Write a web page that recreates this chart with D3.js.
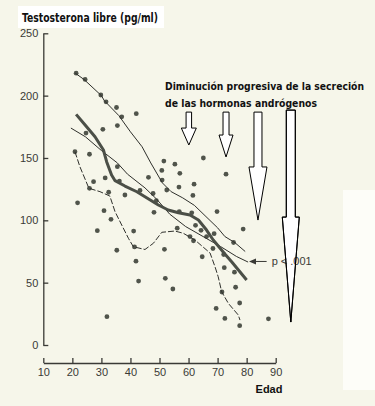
<!DOCTYPE html>
<html>
<head>
<meta charset="utf-8">
<script src="https://cdn.jsdelivr.net/npm/d3@7"></script>
<style>
  html, body { margin: 0; padding: 0; background: #f6f6ea; }
  svg { display: block; }
</style>
</head>
<body>
<svg id="chart" width="375" height="406"></svg>
<script>
// ------------ DATA -----------------

// [edad, testosterona libre pg/ml]
const points = [
  [21.3, 218], [24.4, 213], [29.8, 200.5], [31.6, 195], [35.2, 190.5], [42, 185.5],
  [37, 183], [35.5, 176], [30.5, 173], [24.7, 170], [20.9, 155], [25.9, 153],
  [35.5, 143], [31.3, 134], [27.3, 131], [36.2, 131.5], [32.5, 122.5], [25.9, 125.7],
  [38.1, 120.3], [43.3, 124], [46.2, 134.5], [47.8, 121.5], [51.5, 147.5], [55.3, 145],
  [50.8, 140], [50.9, 132.3], [57, 137.7], [56.7, 126.7], [21.8, 114], [30.9, 107.7],
  [33.3, 100.8], [28.6, 91.7], [41.1, 91.4], [41.4, 78.7], [35.3, 76], [41.9, 67.2],
  [42.8, 51.3], [31.9, 22.7], [48.1, 106.4], [48.9, 115.7], [56.1, 93.7], [51.7, 76.7],
  [52, 53.5], [54.6, 44.9], [65.1, 150], [72.9, 137], [61.9, 129], [61.5, 120],
  [69.8, 107], [61.1, 106], [56.8, 107], [78.8, 93], [62.4, 96], [64.3, 92],
  [66.2, 87], [68.8, 89.3], [60.5, 87], [61.7, 83.6], [75.5, 82.2], [68.4, 77.4],
  [64.7, 70.8], [72.1, 72.6], [72.3, 62], [75.8, 58.4], [76.2, 46.3], [71.5, 42.5],
  [77.6, 33.7], [69.5, 29.3], [72.5, 21.3], [77.6, 15.5], [87.5, 21], [52.5, 124.3]
];

// media movil (linea gruesa)
const meanLine = [
  [21.3, 185], [24.4, 176.4], [27.8, 167], [30.7, 156.4], [31.8, 147], [33.5, 136.3],
  [34.7, 131.8], [38.1, 127.5], [42.2, 122.9], [45, 118.9], [49.6, 112.3], [53, 108.3],
  [56.5, 106.1], [60.5, 104.2], [63.4, 100.2], [66.2, 92.2], [68.5, 84.2], [70.8, 77.8],
  [72.5, 73], [74.9, 66.6], [80, 52.1]
];

// percentil superior
const upperLine = [
  [21, 218], [24, 213], [30, 200], [31, 196], [36, 184], [40, 171], [44, 159],
  [47, 146], [51, 130], [54, 123], [58, 118], [62, 112], [66, 103], [70, 94],
  [72.5, 87], [76, 82], [79.5, 75]
];

// regresion
const regLine = [
  [19.5, 174], [24.5, 167], [30, 156], [35.5, 146], [39, 137], [45, 126], [49, 117],
  [53.5, 105], [59, 95], [65, 87], [71, 79], [76.5, 71], [80.5, 66.5]
];

// percentil inferior (discontinua)
const lowerLine = [
  [20.9, 155], [22.6, 143], [25.7, 125.7], [29.5, 123], [32.9, 119.5], [34.7, 106.9],
  [37, 96.2], [39.3, 85.6], [41, 78.8], [45, 76.6], [47.9, 81.6], [50.8, 90.4],
  [55.3, 91.4], [58.2, 89.6], [62.2, 84.2], [67.4, 73.8], [69.1, 62.8], [70.2, 54.8],
  [71.4, 42.7], [73.7, 33.4], [77.1, 24.1], [77.7, 20]
];

const xTicks = [10, 20, 30, 40, 50, 60, 70, 80, 90];
const yTicks = [0, 50, 100, 150, 200, 250];

// flechas: edad, valor arriba, valor cuello, valor punta
const arrows = [
  { age: 60.1, top: 186.8, neck: 174, tip: 160.4, shaft: 5.5, head: 15 },
  { age: 72.9, top: 186.8, neck: 168.4, tip: 150.8, shaft: 6, head: 14 },
  { age: 83.9, top: 186.8, neck: 142.8, tip: 100.2, shaft: 8, head: 18 },
  { age: 95.2, top: 188.4, neck: 102.6, tip: 18.4, shaft: 9, head: 17 }
];

// ------------ SETUP -----------------

const svg = d3.select("#chart");
const x = d3.scaleLinear().domain([10, 90]).range([43.3, 275.7]);
const y = d3.scaleLinear().domain([0, 250]).range([345, 33.3]);

const ink = "#3a3a36";
const dotColor = "#50544b";

// papel blanco pegado
svg.append("rect").attr("x", 18).attr("y", 6).attr("width", 146).attr("height", 22).attr("fill", "#ffffff");
svg.append("rect").attr("x", 343).attr("y", 190).attr("width", 32).attr("height", 200).attr("fill", "#fdfdf8");

// ------------ AXES -----------------

const yAxis = d3.axisLeft(y).tickValues(yTicks).tickSize(-5).tickSizeOuter(0).tickPadding(5);
svg.append("g")
  .attr("transform", `translate(${x(10)},0)`)
  .call(yAxis)
  .call(g => g.selectAll("path, line").attr("stroke", ink).attr("stroke-width", 1.3))
  .call(g => g.selectAll("text").attr("fill", ink).style("font", "11px 'Liberation Sans', Arial, sans-serif"));

const xAxis = d3.axisBottom(x).tickValues(xTicks).tickSize(-5).tickSizeOuter(0).tickPadding(5);
svg.append("g")
  .attr("transform", "translate(0,363)")
  .call(xAxis)
  .call(g => g.selectAll("path, line").attr("stroke", ink).attr("stroke-width", 1.3))
  .call(g => g.selectAll("text").attr("fill", ink).style("font", "11px 'Liberation Sans', Arial, sans-serif"));

// ------------ POINTS & LINES -----------------

svg.append("g").selectAll("circle")
  .data(points)
  .join("circle")
  .attr("cx", d => x(d[0]))
  .attr("cy", d => y(d[1]))
  .attr("r", 2.4)
  .attr("fill", dotColor);

const line = d3.line().x(d => x(d[0])).y(d => y(d[1]));

svg.append("path").datum(upperLine)
  .attr("d", line).attr("fill", "none").attr("stroke", "#2f302c").attr("stroke-width", 1);
svg.append("path").datum(regLine)
  .attr("d", line).attr("fill", "none").attr("stroke", "#2f302c").attr("stroke-width", 1);
svg.append("path").datum(lowerLine)
  .attr("d", line).attr("fill", "none").attr("stroke", "#2f302c").attr("stroke-width", 1)
  .attr("stroke-dasharray", "6,2");
svg.append("path").datum(meanLine)
  .attr("d", line).attr("fill", "none").attr("stroke", "#4b4f47").attr("stroke-width", 3)
  .attr("stroke-linejoin", "round");

// p < .001 con flecha
const pAt = [88.6, 67];
svg.append("line")
  .attr("x1", x(pAt[0]) - 5).attr("x2", x(80.8) + 4)
  .attr("y1", y(pAt[1])).attr("y2", y(pAt[1]))
  .attr("stroke", ink).attr("stroke-width", 1);
svg.append("path")
  .attr("d", `M${x(80.8)},${y(pAt[1])}l7,-3l0,6z`)
  .attr("fill", ink);

// ------------ ANNOTATION -----------------

function arrowPath(a) {
  const cx = x(a.age), s = a.shaft / 2, h = a.head / 2;
  return `M${cx - s},${y(a.top)}H${cx + s}V${y(a.neck)}H${cx + h}L${cx},${y(a.tip)}L${cx - h},${y(a.neck)}H${cx - s}Z`;
}

svg.append("g").selectAll("path")
  .data(arrows)
  .join("path")
  .attr("d", arrowPath)
  .attr("fill", "#ffffff")
  .attr("stroke", "#000")
  .attr("stroke-width", 1);

svg.append("text")
  .attr("x", x(pAt[0])).attr("y", y(pAt[1]) + 4)
  .attr("fill", ink)
  .style("font", "11px 'Liberation Sans', Arial, sans-serif")
  .text("p < .001");

// contorno de la flecha larga encima del texto
svg.append("path").datum(arrows[3])
  .attr("d", arrowPath)
  .attr("fill", "none")
  .attr("stroke", "#000")
  .attr("stroke-width", 1);

const boldFont = "bold 12px 'Liberation Sans Narrow', 'DejaVu Sans Condensed', sans-serif";
const noteFont = "bold 10.5px 'Liberation Sans Narrow', 'DejaVu Sans Condensed', sans-serif";

svg.append("text")
  .attr("x", 22).attr("y", 22)
  .attr("textLength", 136).attr("lengthAdjust", "spacingAndGlyphs")
  .attr("fill", "#111")
  .style("font", boldFont)
  .text("Testosterona libre (pg/ml)");

svg.append("text")
  .attr("x", 165).attr("y", 90)
  .attr("textLength", 199).attr("lengthAdjust", "spacingAndGlyphs")
  .attr("fill", "#111")
  .style("font", noteFont)
  .text("Diminución progresiva de la secreción");

svg.append("text")
  .attr("x", 165).attr("y", 107)
  .attr("textLength", 152).attr("lengthAdjust", "spacingAndGlyphs")
  .attr("fill", "#111")
  .style("font", noteFont)
  .text("de las hormonas andrógenos");

svg.append("text")
  .attr("x", 269).attr("y", 393)
  .attr("text-anchor", "middle")
  .attr("fill", "#111")
  .style("font", "bold 11px 'Liberation Sans Narrow', 'Liberation Sans', sans-serif")
  .text("Edad");
</script>
</body>
</html>
